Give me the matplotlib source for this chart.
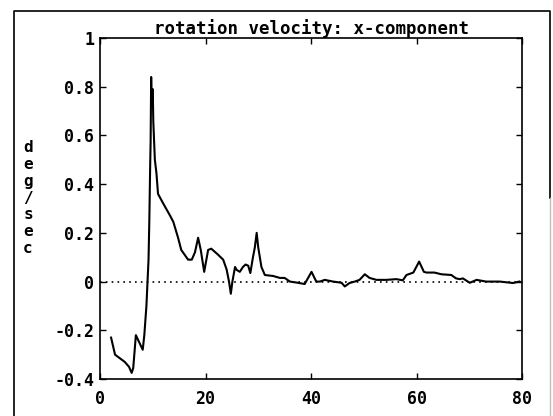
import matplotlib
matplotlib.use("Agg")
import matplotlib.pyplot as plt
from matplotlib.lines import Line2D

# values
t = [2.1, 2.85, 4.7, 5.5, 6.0, 6.3, 6.8, 7.45, 8.1, 8.4, 8.8, 9.2, 9.35, 9.5, 9.6,
     9.7, 9.8, 10.0, 10.1, 10.4, 10.7, 11.0, 12.0, 13.3, 13.9, 14.8, 15.4, 16.7,
     17.4, 18.0, 18.6, 19.1, 19.75, 20.5, 21.1, 22.4, 23.35, 24.0, 24.5, 24.8,
     25.1, 25.6, 25.9, 26.5, 27.1, 27.6, 28.1, 28.5, 29.0, 29.35, 29.7, 30.0,
     30.6, 31.25, 32.8, 34.1, 35.0, 36.0, 37.25, 38.8, 40.1, 41.0, 41.7, 42.6,
     44.2, 45.8, 46.4, 47.3, 48.3, 49.2, 50.2, 51.1, 52.4, 54.3, 56.2, 57.4,
     58.1, 59.4, 60.5, 61.4, 61.9, 63.4, 64.7, 66.6, 67.5, 68.2, 68.8, 70.1,
     71.4, 73.2, 75.8, 78.3, 79.5]
vel = [-0.23, -0.30, -0.33, -0.35, -0.375, -0.355, -0.22, -0.25, -0.28, -0.22,
       -0.10, 0.09, 0.25, 0.46, 0.58, 0.84, 0.73, 0.79, 0.66, 0.50, 0.445, 0.36,
       0.32, 0.27, 0.245, 0.18, 0.13, 0.09, 0.09, 0.12, 0.18, 0.13, 0.04, 0.13,
       0.135, 0.11, 0.09, 0.05, -0.005, -0.05, 0.0, 0.06, 0.048, 0.04, 0.06,
       0.07, 0.065, 0.035, 0.10, 0.14, 0.20, 0.14, 0.06, 0.027, 0.023, 0.015,
       0.015, 0.0, -0.004, -0.01, 0.04, 0.0, 0.0, 0.007, 0.0, -0.005, -0.02,
       -0.006, 0.0, 0.007, 0.03, 0.015, 0.007, 0.007, 0.01, 0.005, 0.027, 0.037,
       0.082, 0.04, 0.037, 0.037, 0.03, 0.027, 0.013, 0.01, 0.013, -0.005,
       0.007, 0.0, 0.0, -0.006, 0.0]

xticks = [0, 20, 40, 60, 80]
yticks = [-0.4, -0.2, 0, 0.2, 0.4, 0.6, 0.8, 1]
ytick_labels = ["-0.4", "-0.2", "0", "0.2", "0.4", "0.6", "0.8", "1"]
title = "rotation velocity: x-component"
ylabel = "deg/sec"

W, H = 553, 416
font = dict(family="DejaVu Sans Mono", weight="bold", size=12)

fig = plt.figure(figsize=(W / 100, H / 100), dpi=100)
ax = fig.add_axes([100 / W, 1 - 379 / H, 422 / W, 341 / H])

ax.plot(t, vel, color="black", lw=1.5)
ax.axhline(0, color="black", lw=1.2, linestyle=(0, (1, 2.5)))

ax.set_xlim(0, 80)
ax.set_ylim(-0.4, 1)
ax.set_xticks(xticks)
ax.set_xticklabels([str(v) for v in xticks], fontdict=font)
ax.set_yticks(yticks)
ax.set_yticklabels(ytick_labels, fontdict=font)
ax.tick_params(direction="in", length=4, width=1, top=True, right=True)
ax.tick_params(axis="x", pad=8)
ax.tick_params(axis="y", pad=4)
for s in ax.spines.values():
    s.set_linewidth(1.2)

ax.set_title(title, fontdict=dict(font, size=12.5), pad=3)

# vertical stacked y label
for i, ch in enumerate(ylabel):
    fig.text(28 / W, 1 - (148 + i * 16.7) / H, ch, ha="center", va="center",
             **dict(font, size=11.5))

# outer frame of the scanned figure
def px_line(xs, ys, **kw):
    fig.add_artist(Line2D([x / W for x in xs], [1 - y / H for y in ys],
                          transform=fig.transFigure, **kw))

px_line([14, 14, 550, 550], [416, 11, 11, 198], color="black", lw=1.2)
px_line([550, 550], [198, 416], color="0.75", lw=1.0)

fig.savefig("out.png", dpi=100)
